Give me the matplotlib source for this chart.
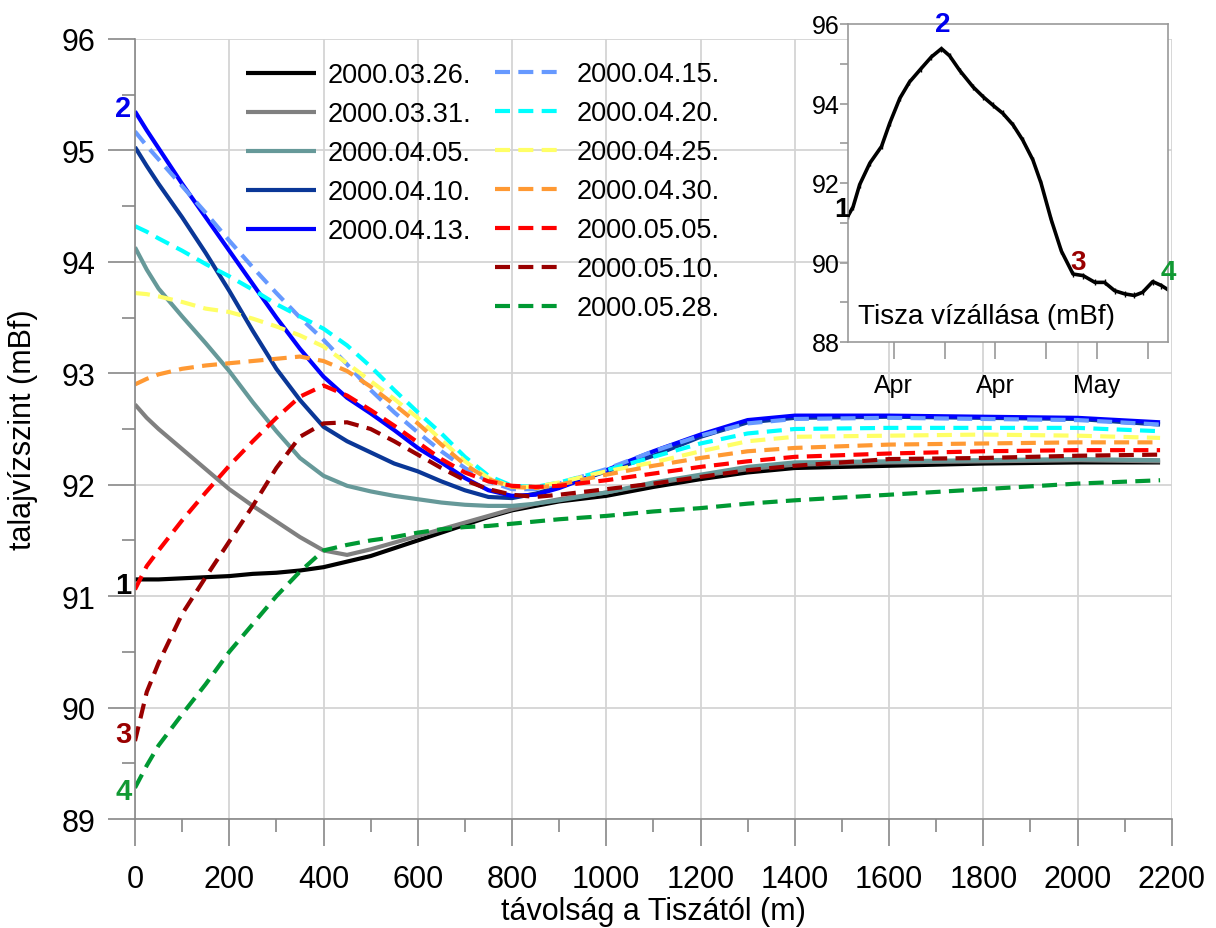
import matplotlib
matplotlib.use("Agg")
import matplotlib.pyplot as plt
from matplotlib.lines import Line2D

plt.rcParams['font.family'] = ['Liberation Sans', 'DejaVu Sans']

# distance from the river (m)
dist = [0, 25, 50, 100, 150, 200, 250, 300, 350, 400, 450, 500, 550, 600, 650, 700,
        750, 800, 850, 900, 1000, 1100, 1200, 1300, 1400, 1600, 1800, 2000, 2175]

# groundwater level (mBf) per date
d0326 = [91.15, 91.15, 91.15, 91.16, 91.17, 91.18, 91.2, 91.21, 91.23, 91.26, 91.31, 91.36, 91.43, 91.5, 91.57,
         91.64, 91.71, 91.77, 91.81, 91.85, 91.9, 91.98, 92.05, 92.11, 92.15, 92.17, 92.19, 92.2, 92.2]
d0331 = [92.72, 92.6, 92.5, 92.32, 92.14, 91.96, 91.81, 91.67, 91.53, 91.41, 91.37, 91.42, 91.48, 91.54, 91.6,
         91.66, 91.72, 91.78, 91.83, 91.87, 91.93, 92.01, 92.08, 92.14, 92.18, 92.2, 92.21, 92.22, 92.21]
d0405 = [94.13, 93.93, 93.76, 93.51, 93.27, 93.02, 92.74, 92.48, 92.24, 92.08, 91.99, 91.94, 91.9, 91.87, 91.84,
         91.82, 91.81, 91.81, 91.83, 91.86, 91.93, 92.02, 92.09, 92.16, 92.2, 92.21, 92.22, 92.23, 92.22]
d0410 = [95.03, 94.86, 94.7, 94.4, 94.08, 93.74, 93.38, 93.04, 92.76, 92.52, 92.39, 92.29, 92.19, 92.12, 92.03,
         91.95, 91.89, 91.88, 91.92, 91.98, 92.12, 92.26, 92.43, 92.56, 92.6, 92.61, 92.6, 92.59, 92.54]
d0413 = [95.35, 95.18, 95.02, 94.7, 94.4, 94.1, 93.8, 93.5, 93.22, 92.97, 92.78, 92.64, 92.49, 92.33, 92.2,
         92.06, 91.95, 91.9, 91.91, 91.97, 92.13, 92.3, 92.45, 92.58, 92.62, 92.62, 92.61, 92.6, 92.56]
d0415 = [95.17, 95.04, 94.92, 94.68, 94.44, 94.19, 93.95, 93.72, 93.5, 93.3, 93.08, 92.85, 92.65, 92.47, 92.3,
         92.15, 92.03, 91.96, 91.96, 92.01, 92.14, 92.3, 92.44, 92.55, 92.59, 92.6, 92.59, 92.58, 92.54]
d0420 = [94.32, 94.27, 94.21, 94.1, 93.98, 93.87, 93.75, 93.62, 93.51, 93.4, 93.25, 93.06, 92.85, 92.65, 92.46,
         92.25, 92.08, 91.99, 91.98, 92.02, 92.13, 92.25, 92.37, 92.46, 92.5, 92.51, 92.51, 92.51, 92.48]
d0425 = [93.72, 93.71, 93.69, 93.64, 93.58, 93.55, 93.49, 93.42, 93.34, 93.24, 93.09, 92.93, 92.77, 92.6, 92.4,
         92.21, 92.06, 91.98, 91.98, 92.02, 92.12, 92.2, 92.3, 92.39, 92.43, 92.44, 92.45, 92.44, 92.42]
d0430 = [92.9, 92.95, 92.99, 93.04, 93.07, 93.09, 93.11, 93.13, 93.15, 93.11, 93.02, 92.88, 92.72, 92.55, 92.36,
         92.18, 92.05, 91.98, 91.97, 92.0, 92.09, 92.17, 92.24, 92.3, 92.33, 92.36, 92.37, 92.38, 92.38]
d0505 = [91.06, 91.27, 91.41, 91.68, 91.93, 92.17, 92.39, 92.6, 92.79, 92.89, 92.8, 92.67, 92.53, 92.38, 92.23,
         92.11, 92.03, 91.99, 91.98, 91.99, 92.04, 92.1, 92.16, 92.21, 92.25, 92.28, 92.3, 92.31, 92.31]
d0510 = [89.7, 90.14, 90.4, 90.84, 91.17, 91.49, 91.81, 92.15, 92.43, 92.55, 92.56, 92.5, 92.39, 92.27, 92.15,
         92.04, 91.96, 91.91, 91.89, 91.91, 91.96, 92.01, 92.07, 92.13, 92.17, 92.23, 92.24, 92.26, 92.27]
d0528 = [89.28, 89.48, 89.66, 89.94, 90.21, 90.5, 90.75, 91.0, 91.22, 91.41, 91.46, 91.5, 91.53, 91.57, 91.6,
         91.62, 91.63, 91.65, 91.67, 91.69, 91.72, 91.76, 91.79, 91.83, 91.86, 91.91, 91.96, 92.01, 92.04]

solid_labels = ['2000.03.26.', '2000.03.31.', '2000.04.05.', '2000.04.10.', '2000.04.13.']
solid_series = [d0326, d0331, d0405, d0410, d0413]
solid_colors = ['#000000', '#808080', '#669999', '#0a3797', '#0000ff']

dashed_labels = ['2000.04.15.', '2000.04.20.', '2000.04.25.', '2000.04.30.',
                 '2000.05.05.', '2000.05.10.', '2000.05.28.']
dashed_series = [d0415, d0420, d0425, d0430, d0505, d0510, d0528]
dashed_colors = ['#6699ff', '#00ffff', '#ffff66', '#ff9933', '#ff0000', '#990000', '#009933']

# Tisza water level, days after 2000.03.26.
tisza_day = [0, 1, 2.3, 4.3, 6.6, 8.2, 10.2, 12.1, 14.4, 16.4, 18.4, 20, 22, 24.6, 26.6, 28.5, 30.5,
             32.5, 34.4, 36.4, 38, 40, 42, 44.3, 46.3, 48.6, 50.5, 52.5, 54.5, 56.4, 58, 60, 61.7, 63.3]
tisza_level = [91.17, 91.4, 91.96, 92.5, 92.92, 93.5, 94.13, 94.54, 94.88, 95.17, 95.38, 95.2, 94.83,
               94.42, 94.17, 93.96, 93.75, 93.46, 93.08, 92.58, 92.0, 91.08, 90.29, 89.71, 89.67, 89.5,
               89.5, 89.29, 89.21, 89.17, 89.25, 89.52, 89.42, 89.29]

fig = plt.figure(figsize=(12.16, 9.29), dpi=100)
ax = fig.add_axes([0.111, 0.1173, 0.8527, 0.8397])

lw = 3.0
dash = (0, (3.6, 2.0))
for s, c in zip(solid_series, solid_colors):
    ax.plot(dist, s, color=c, lw=lw, solid_capstyle='butt', solid_joinstyle='round')
for s, c in zip(dashed_series, dashed_colors):
    ax.plot(dist, s, color=c, lw=lw, linestyle=dash, dash_joinstyle='round')

ax.set_xlim(0, 2200)
ax.set_ylim(89, 96)
ax.set_xticks(range(0, 2201, 200))
ax.set_xticks(range(100, 2200, 200), minor=True)
ax.set_yticks(range(89, 97))
ax.set_yticks([89.5 + i for i in range(7)], minor=True)
ax.grid(True, which='major', color='#d4d4d4', lw=1.3)
ax.set_axisbelow(True)
for side in ['top', 'right']:
    ax.spines[side].set_visible(False)
for side in ['left', 'bottom']:
    ax.spines[side].set_color('#888888')
    ax.spines[side].set_linewidth(1.2)
ax.tick_params(which='major', length=19.5, width=1.2, color='#888888', labelsize=22)
ax.tick_params(which='minor', length=9.5, width=1.2, color='#888888')
ax.tick_params(axis='x', pad=13)
ax.tick_params(axis='y', pad=9)
ax.set_xlabel('távolság a Tiszától (m)', fontsize=22, labelpad=1)
ax.set_ylabel('talajvízszint (mBf)', fontsize=22, labelpad=17)

# numbers marking the four Tisza stages
ax.text(-25, 95.38, '2', color='#0000ee', fontsize=21, fontweight='bold', ha='center', va='center', clip_on=False)
ax.text(-25, 91.1, '1', color='black', fontsize=21, fontweight='bold', ha='center', va='center', clip_on=False)
ax.text(-25, 89.76, '3', color='#990000', fontsize=21, fontweight='bold', ha='center', va='center', clip_on=False)
ax.text(-25, 89.25, '4', color='#119933', fontsize=21, fontweight='bold', ha='center', va='center', clip_on=False)

# two legends: solid lines and dashed lines
h1 = [Line2D([], [], color=c, lw=lw, solid_capstyle='butt') for c in solid_colors]
h2 = [Line2D([], [], color=c, lw=lw, linestyle=dash) for c in dashed_colors]
leg_kw = dict(frameon=False, fontsize=19.5, handlelength=2.6, handletextpad=0.4,
              labelspacing=0.48, borderpad=0, borderaxespad=0, loc='upper left')
leg1 = ax.legend(h1, solid_labels, bbox_to_anchor=(246 / 1216, 1 - 63 / 929),
                 bbox_transform=fig.transFigure, **leg_kw)
ax.add_artist(leg1)
ax.legend(h2, dashed_labels, bbox_to_anchor=(495 / 1216, 1 - 62 / 929),
          bbox_transform=fig.transFigure, **leg_kw)

# inset: Tisza water level
ins = fig.add_axes([848 / 1216, 1 - 343 / 929, 320 / 1216, 318 / 929])
ins.set_facecolor('white')
ins.plot(tisza_day, tisza_level, color='black', lw=2.6, marker='|', ms=4, mew=1)
ins.set_xlim(0, 63)
ins.set_ylim(88, 96)
ins.set_yticks([88, 90, 92, 94, 96])
ins.set_yticks([89, 91, 93, 95], minor=True)
ins.set_xticks([9, 29, 49])
ins.set_xticks([19, 39, 59], minor=True)
ins.set_xticklabels(['Apr', 'Apr', 'May'])
for sp in ins.spines.values():
    sp.set_color('#999999')
    sp.set_linewidth(1.2)
ins.tick_params(which='both', length=6, width=1.2, color='#999999', labelsize=18)
ins.tick_params(axis='x', which='both', length=12, pad=10)
ins.tick_params(axis='y', pad=0)
ins.text(0.03, 0.04, 'Tisza vízállása (mBf)', transform=ins.transAxes, fontsize=20, ha='left', va='bottom')
ins.text(18.6, 96.0, '2', color='#0000ee', fontsize=20, fontweight='bold', ha='center', va='center', clip_on=False)
ins.text(-1.2, 91.35, '1', color='black', fontsize=20, fontweight='bold', ha='center', va='center', clip_on=False)
ins.text(45.3, 90.0, '3', color='#990000', fontsize=20, fontweight='bold', ha='center', va='center', clip_on=False)
ins.text(63.0, 89.77, '4', color='#119933', fontsize=20, fontweight='bold', ha='center', va='center', clip_on=False)

fig.savefig('out.png', dpi=100)
